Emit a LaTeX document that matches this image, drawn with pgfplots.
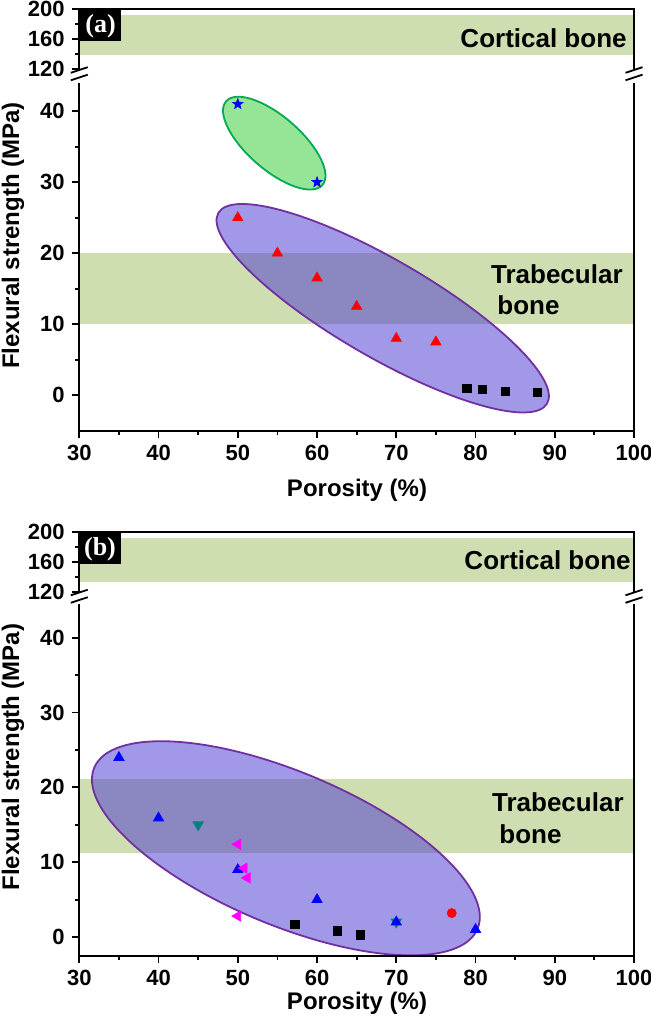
\documentclass[border=0pt]{standalone}
\usepackage{fontspec}
\setmainfont{Liberation Sans}
\newfontfamily\labfont{Liberation Serif}
\usepackage{pgfplots}
\pgfplotsset{compat=1.18}
\usetikzlibrary{shapes.geometric}

\definecolor{bandc}{RGB}{207,222,176}
\definecolor{ellp}{RGB}{70,50,210}
\definecolor{ellpd}{RGB}{112,48,160}
\definecolor{ellg}{RGB}{150,228,150}
\definecolor{ellgd}{RGB}{0,170,80}
\definecolor{tealc}{RGB}{0,128,128}
\definecolor{magc}{RGB}{255,0,255}
\definecolor{bluec}{RGB}{0,0,255}
\definecolor{redc}{RGB}{255,0,0}

% filled five-point star
\pgfdeclareplotmark{fstar}{%
  \pgfpathmoveto{\pgfpointpolar{90}{\pgfplotmarksize}}%
  \pgfpathlineto{\pgfpointpolar{126}{0.42\pgfplotmarksize}}%
  \pgfpathlineto{\pgfpointpolar{162}{\pgfplotmarksize}}%
  \pgfpathlineto{\pgfpointpolar{198}{0.42\pgfplotmarksize}}%
  \pgfpathlineto{\pgfpointpolar{234}{\pgfplotmarksize}}%
  \pgfpathlineto{\pgfpointpolar{270}{0.42\pgfplotmarksize}}%
  \pgfpathlineto{\pgfpointpolar{306}{\pgfplotmarksize}}%
  \pgfpathlineto{\pgfpointpolar{342}{0.42\pgfplotmarksize}}%
  \pgfpathlineto{\pgfpointpolar{18}{\pgfplotmarksize}}%
  \pgfpathlineto{\pgfpointpolar{54}{0.42\pgfplotmarksize}}%
  \pgfpathclose
  \pgfusepathqfillstroke}

\pgfplotsset{
  seg/.style={
    anchor=south west, scale only axis, width=277.35pt,
    xmin=30, xmax=100, clip=false,
    axis line style={draw=none},
    tick align=outside, ytick pos=left, xtick pos=left,
    major tick length=3.8pt, minor tick length=2.2pt,
    every tick/.style={black, line width=0.9pt},
    ticklabel style={font=\fontsize{11}{13}\selectfont\bfseries},
    /pgf/number format/assume math mode=true,
  },
}
\tikzset{brk/.style={black, line width=0.9pt}, spine/.style={black, line width=0.9pt}}

\begin{document}
\begin{tikzpicture}
\useasboundingbox (0pt,0pt) rectangle (325pt,-510pt);

% ---------------- panel (a) ----------------
\begin{axis}[seg, at={(39.65pt,-34.5pt)}, height=30pt,
  ymin=120, ymax=200, ytick={120,160,200}, minor y tick num=1, xtick=\empty]
  \fill[bandc] (axis cs:30,138) rectangle (axis cs:100,192);
  \draw[spine] (rel axis cs:0,0) -- (rel axis cs:0,1) -- (rel axis cs:1,1) -- (rel axis cs:1,0);
\end{axis}

\begin{axis}[seg, at={(39.65pt,-215.35pt)}, height=173.95pt,
  ymin=-5, ymax=44, ytick={0,10,...,40}, minor y tick num=1,
  xtick={30,40,...,100}, minor x tick num=1]
  \fill[bandc] (axis cs:30,10) rectangle (axis cs:100,20);
  \node[ellipse, draw=ellgd, line width=0.9pt, fill=ellg, inner sep=0pt,
        minimum width=63.8pt, minimum height=26.6pt, rotate=-41]
        at (axis cs:54.6,35.5) {};
  \node[ellipse, draw=ellpd, line width=0.9pt, fill=ellp, fill opacity=0.5, draw opacity=1,
        inner sep=0pt, minimum width=190pt, minimum height=48.8pt, rotate=-30.1]
        at (axis cs:68.29,12.25) {};
  \addplot[only marks, bluec, mark=fstar, mark size=2.6pt] coordinates {(50,41) (60,30)};
  \addplot[only marks, redc, mark=triangle*, mark size=2.9pt] coordinates {
    (50,25) (55,20) (60,16.5) (65,12.5) (70,8) (75,7.5)};
  \addplot[only marks, black, mark=square*, mark size=2.1pt] coordinates {
    (78.9,1.0) (80.9,0.85) (83.8,0.56) (87.8,0.42)};
  \draw[spine] (rel axis cs:0,1) -- (rel axis cs:0,0) -- (rel axis cs:1,0) -- (rel axis cs:1,1);
\end{axis}

% ---------------- panel (b) ----------------
\begin{axis}[seg, at={(39.65pt,-296pt)}, height=30pt,
  ymin=120, ymax=200, ytick={120,160,200}, minor y tick num=1, xtick=\empty]
  \fill[bandc] (axis cs:30,134) rectangle (axis cs:100,192);
  \draw[spine] (rel axis cs:0,0) -- (rel axis cs:0,1) -- (rel axis cs:1,1) -- (rel axis cs:1,0);
\end{axis}

\begin{axis}[seg, at={(39.65pt,-477.85pt)}, height=175.8pt,
  ymin=-2.5, ymax=44.5, ytick={0,10,...,40}, minor y tick num=1,
  xtick={30,40,...,100}, minor x tick num=1]
  \fill[bandc] (axis cs:30,11.2) rectangle (axis cs:100,21.1);
  \node[ellipse, draw=ellpd, line width=0.9pt, fill=ellp, fill opacity=0.5, draw opacity=1,
        inner sep=0pt, minimum width=207.9pt, minimum height=76.5pt, rotate=-22.8]
        at (axis cs:56.07,11.86) {};
  \addplot[only marks, black, mark=square*, mark size=2.1pt] coordinates {
    (57.2,1.7) (62.6,0.8) (65.5,0.3)};
  \addplot[only marks, tealc, mark=triangle*, mark size=2.9pt, mark options={rotate=180}]
    coordinates {(45,15) (70,2.0)};
  \addplot[only marks, bluec, mark=triangle*, mark size=2.9pt] coordinates {
    (35,24) (40,15.9) (50,9) (60,5) (70,2.0) (80,1.0)};
  \addplot[only marks, magc, mark=triangle*, mark size=2.9pt, mark options={rotate=90}]
    coordinates {(50,12.4) (50.8,9.2) (51.2,7.9) (50,2.8)};
  \addplot[only marks, redc, mark=*, mark size=2.25pt] coordinates {(77,3.2)};
  \draw[spine] (rel axis cs:0,1) -- (rel axis cs:0,0) -- (rel axis cs:1,0) -- (rel axis cs:1,1);
\end{axis}

% axis breaks
\foreach \bx in {39.65,317} {
  \draw[brk] (\bx pt-4.25pt,-36.4pt) -- (\bx pt+4.25pt,-33.6pt);
  \draw[brk] (\bx pt-4.25pt,-40.15pt) -- (\bx pt+4.25pt,-37.35pt);
  \draw[brk] (\bx pt-4.25pt,-297.65pt) -- (\bx pt+4.25pt,-294.85pt);
  \draw[brk] (\bx pt-4.25pt,-301.4pt) -- (\bx pt+4.25pt,-298.6pt);
}

% panel tags
\fill[black] (40pt,-4.5pt) rectangle (60.5pt,-20.5pt);
\node[white, inner sep=0pt, font=\labfont\bfseries\fontsize{13}{15}\selectfont] at (50.3pt,-13pt) {(a)};
\fill[black] (39.5pt,-266pt) rectangle (60.5pt,-282pt);
\node[white, inner sep=0pt, font=\labfont\bfseries\fontsize{13}{15}\selectfont] at (50pt,-274.5pt) {(b)};

% band labels
\begin{scope}[every node/.style={inner sep=0pt, font=\fontsize{13}{15}\selectfont\bfseries}]
\node[anchor=east] at (313.5pt,-19pt) {Cortical bone};
\node[anchor=west] at (245.35pt,-137pt) {Trabecular};
\node[anchor=west] at (248.5pt,-152.5pt) {bone};
\node[anchor=east] at (315.5pt,-280.35pt) {Cortical bone};
\node[anchor=west] at (245.85pt,-400.85pt) {Trabecular};
\node[anchor=west] at (249.5pt,-417.15pt) {bone};
\end{scope}

% axis titles
\begin{scope}[every node/.style={inner sep=0pt, font=\fontsize{12}{14}\selectfont\bfseries}]
\node[rotate=90] at (6.5pt,-117.75pt) {Flexural strength (MPa)};
\node[rotate=90] at (6.5pt,-378.5pt) {Flexural strength (MPa)};
\node at (178.5pt,-245pt) {Porosity (\%)};
\node at (178.5pt,-501.5pt) {Porosity (\%)};
\end{scope}
\end{tikzpicture}
\end{document}
